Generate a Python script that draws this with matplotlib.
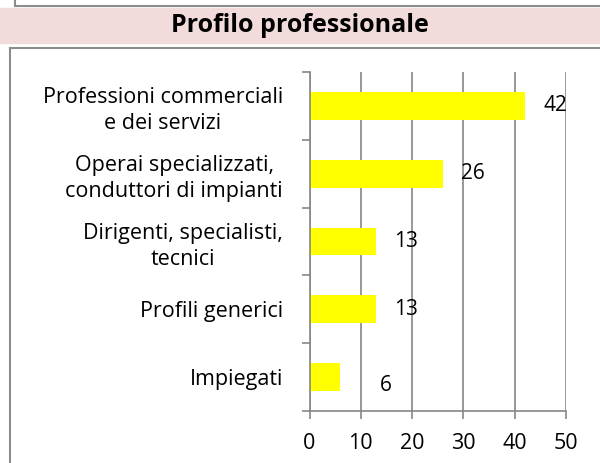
import matplotlib.pyplot as plt
from matplotlib.patches import Rectangle

categories = ["Professioni commerciali\ne dei servizi",
              "Operai specializzati,\nconduttori di impianti",
              "Dirigenti, specialisti,\ntecnici",
              "Profili generici",
              "Impiegati"]
values = [42, 26, 13, 13, 6]
xticks = [0, 10, 20, 30, 40, 50]

plt.rcParams['font.family'] = ['Open Sans', 'DejaVu Sans']

fig = plt.figure(figsize=(6, 4.63), dpi=100)
W, H = 600, 463

# frame bits and title band
fig.add_artist(plt.Line2D([15/W, 15/W], [1, 1-6/H], color='#8c8c8c', lw=1.5))
fig.add_artist(plt.Line2D([15/W, 1], [1-6/H, 1-6/H], color='#8c8c8c', lw=1.5))
fig.add_artist(Rectangle((0, 1-43/H), 1, 35/H, color='#f2dcdb', transform=fig.transFigure))
fig.add_artist(plt.Line2D([10/W, 1], [1-48/H, 1-48/H], color='#8c8c8c', lw=1.5))
fig.add_artist(plt.Line2D([10/W, 10/W], [0, 1-48/H], color='#8c8c8c', lw=1.5))
fig.text(0.5, 1-26/H, "Profilo professionale", ha='center', va='center',
         fontsize=18, fontweight='bold')

ax = fig.add_axes([309.5/W, 1-411/H, 256.5/W, 339/H])
ypos = list(range(len(values)))[::-1]
ax.barh(ypos, values, height=0.41, color='#ffff00')
ax.set_xlim(0, 50)
ax.set_ylim(-0.5, len(values)-0.5)
ax.set_xticks(xticks)
ax.set_xticklabels([str(t) for t in xticks], fontsize=15.5)
ax.set_yticks(ypos)
ax.set_yticklabels(categories, fontsize=15.5, multialignment='center', linespacing=1.3)
ax.set_yticks([y - 0.5 for y in range(len(values)+1)], minor=True)
ax.tick_params(axis='y', which='major', length=0, pad=19)
ax.tick_params(axis='y', which='minor', length=6, color='#868686', width=1.2)
ax.tick_params(axis='x', length=6, color='#868686', width=1.2, pad=10)
ax.grid(axis='x', color='#868686', lw=1.2)
ax.set_axisbelow(True)
for s in ['top', 'right']:
    ax.spines[s].set_visible(False)
for s in ['left', 'bottom']:
    ax.spines[s].set_color('#868686')
    ax.spines[s].set_linewidth(1.2)

for y, v in zip(ypos, values):
    dx, dy = (46, -8) if v == 6 else (30, 0)
    ax.annotate(str(v), (v, y), xytext=(dx * 0.72, dy * 0.72), textcoords='offset points',
                ha='center', va='center', fontsize=15)

fig.savefig("out.png", dpi=100)
